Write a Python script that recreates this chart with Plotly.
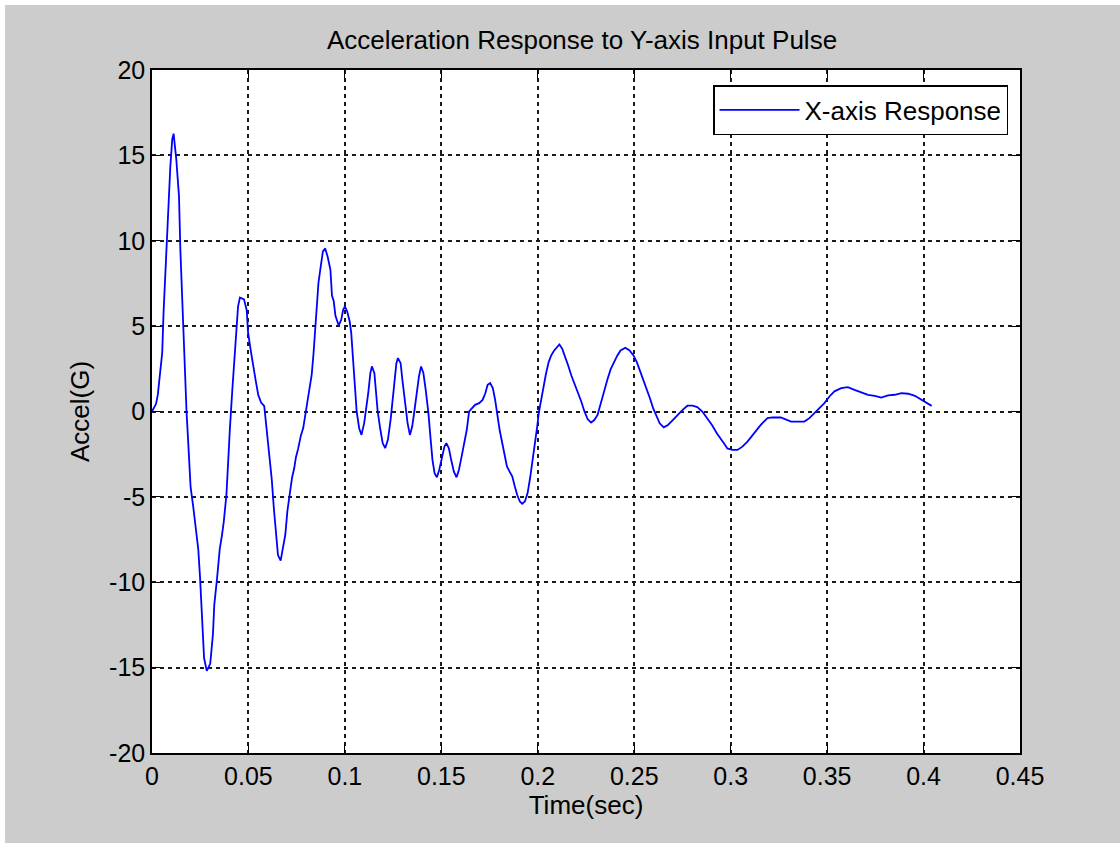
import plotly.graph_objects as go

# ---- data ----
time_sec = [
    0.0, 0.0012, 0.0021, 0.003, 0.0042, 0.0053, 0.006, 0.007, 0.0082, 0.0095,
    0.0105, 0.0112, 0.0126, 0.014, 0.0147, 0.0158, 0.0167, 0.0179, 0.0191, 0.02,
    0.0214, 0.0226, 0.024, 0.0249, 0.0258, 0.0263, 0.027, 0.0284, 0.0302, 0.0316,
    0.0323, 0.0337, 0.0351, 0.0363, 0.0372, 0.0386, 0.0393, 0.0404, 0.0416, 0.0428,
    0.0439, 0.0446, 0.0456, 0.0477, 0.0491, 0.0498, 0.0512, 0.0526, 0.0539, 0.0551,
    0.0565, 0.0582, 0.0596, 0.0609, 0.0621, 0.0632, 0.0644, 0.0653, 0.0667, 0.0679,
    0.0691, 0.0702, 0.0714, 0.0726, 0.0737, 0.0746, 0.0758, 0.0772, 0.0784, 0.0793,
    0.0805, 0.0816, 0.0828, 0.0837, 0.0846, 0.0854, 0.0863, 0.0875, 0.0886, 0.0898,
    0.0911, 0.0925, 0.0933, 0.0942, 0.0951, 0.0968, 0.0981, 0.0991, 0.1, 0.1012,
    0.1025, 0.1033, 0.1042, 0.1051, 0.1061, 0.1074, 0.1086, 0.11, 0.1109, 0.1121,
    0.1132, 0.114, 0.1153, 0.1161, 0.117, 0.1184, 0.1196, 0.1209, 0.1223, 0.1237,
    0.1246, 0.1254, 0.1267, 0.1275, 0.1289, 0.1298, 0.1311, 0.1325, 0.1337, 0.1349,
    0.136, 0.1372, 0.1384, 0.1395, 0.1407, 0.1419, 0.1433, 0.1444, 0.1454, 0.1465,
    0.1477, 0.1489, 0.1504, 0.1516, 0.1526, 0.1539, 0.1551, 0.1565, 0.1579, 0.1591,
    0.1605, 0.1618, 0.1632, 0.1644, 0.1658, 0.1675, 0.1696, 0.1714, 0.1728, 0.174,
    0.1753, 0.1767, 0.1779, 0.1789, 0.1802, 0.1816, 0.1828, 0.184, 0.1854, 0.1868,
    0.1881, 0.1893, 0.1907, 0.1919, 0.1933, 0.1947, 0.196, 0.1974, 0.1985, 0.1997,
    0.2005, 0.2017, 0.2031, 0.2042, 0.2056, 0.2069, 0.2085, 0.2098, 0.2112, 0.2127,
    0.2141, 0.2158, 0.2175, 0.2192, 0.2208, 0.2225, 0.2242, 0.2259, 0.2276, 0.2293,
    0.231, 0.2327, 0.2344, 0.2361, 0.2378, 0.2395, 0.2412, 0.2429, 0.2454, 0.2476,
    0.2497, 0.2514, 0.2531, 0.2547, 0.2564, 0.2581, 0.2598, 0.2615, 0.2632, 0.2653,
    0.2675, 0.27, 0.2725, 0.2751, 0.2776, 0.2802, 0.2827, 0.2853, 0.2878, 0.2903,
    0.2929, 0.2948, 0.2965, 0.2983, 0.3009, 0.3035, 0.3061, 0.3087, 0.3122, 0.3156,
    0.3191, 0.3217, 0.326, 0.3286, 0.3313, 0.3347, 0.3382, 0.3408, 0.3434, 0.346,
    0.3486, 0.3512, 0.3538, 0.3573, 0.3608, 0.3642, 0.3677, 0.3712, 0.3747, 0.3781,
    0.3816, 0.3851, 0.3885, 0.392, 0.3955, 0.399, 0.4016, 0.4042,
]
accel_g = [
    0.0, 0.3, 0.45, 0.97, 2.26, 3.45, 5.82, 8.51, 11.75, 14.33,
    15.95, 16.27, 14.76, 12.6, 9.48, 6.25, 2.8, 0.0, -2.48, -4.42,
    -5.6, -6.68, -8.08, -9.7, -11.42, -13.04, -14.44, -15.19, -14.76, -13.04,
    -11.31, -9.81, -8.08, -7.22, -6.47, -4.85, -3.13, -0.97, 1.19, 3.23,
    4.96, 6.14, 6.68, 6.57, 5.93, 4.63, 3.56, 2.48, 1.72, 0.97,
    0.54, 0.32, -1.19, -2.59, -3.99, -5.71, -7.22, -8.41, -8.73, -7.97,
    -7.22, -5.82, -4.85, -3.88, -3.34, -2.69, -2.16, -1.4, -0.97, -0.32,
    0.43, 1.08, 2.16, 3.34, 4.63, 5.93, 7.54, 8.51, 9.38, 9.55,
    9.05, 8.3, 6.79, 6.47, 5.6, 5.04, 5.37, 5.96, 6.15, 5.86,
    5.27, 4.59, 3.13, 1.46, 0.0, -0.98, -1.37, -0.68, 0.0, 1.07,
    2.25, 2.64, 2.25, 1.07, 0.0, -1.07, -1.86, -2.15, -1.66, -0.49,
    0.49, 1.66, 2.83, 3.13, 2.83, 1.86, 0.68, -0.68, -1.37, -0.88,
    0.0, 1.07, 2.05, 2.64, 2.25, 1.27, -0.1, -1.56, -2.83, -3.61,
    -3.85, -3.42, -2.64, -2.05, -1.86, -2.15, -2.83, -3.52, -3.85, -3.42,
    -2.64, -1.86, -1.07, 0.0, 0.2, 0.39, 0.49, 0.68, 1.07, 1.56,
    1.66, 1.37, 0.68, -0.1, -1.07, -1.86, -2.64, -3.22, -3.52, -3.81,
    -4.39, -4.88, -5.27, -5.41, -5.27, -4.79, -3.91, -2.83, -1.7, -0.89,
    -0.1, 0.69, 1.49, 2.18, 2.88, 3.27, 3.57, 3.77, 3.93, 3.67,
    3.27, 2.68, 2.08, 1.59, 1.09, 0.6, 0.0, -0.46, -0.65, -0.5,
    -0.2, 0.5, 1.29, 1.88, 2.48, 2.88, 3.27, 3.57, 3.73, 3.57,
    3.27, 2.88, 2.38, 1.88, 1.29, 0.79, 0.2, -0.3, -0.69, -0.93,
    -0.79, -0.5, -0.2, 0.1, 0.34, 0.34, 0.26, 0.0, -0.4, -0.79,
    -1.29, -1.57, -1.86, -2.16, -2.25, -2.25, -2.06, -1.76, -1.27, -0.78,
    -0.39, -0.35, -0.35, -0.45, -0.59, -0.59, -0.59, -0.39, -0.1, 0.2,
    0.49, 0.88, 1.18, 1.37, 1.43, 1.27, 1.12, 0.98, 0.92, 0.82,
    0.94, 0.98, 1.08, 1.04, 0.92, 0.69, 0.49, 0.33,
]

x_tick_vals = [0, 0.05, 0.1, 0.15, 0.2, 0.25, 0.3, 0.35, 0.4, 0.45]
x_tick_text = ["0", "0.05", "0.1", "0.15", "0.2", "0.25", "0.3", "0.35", "0.4", "0.45"]
y_tick_vals = [-20, -15, -10, -5, 0, 5, 10, 15, 20]
y_tick_text = ["-20", "-15", "-10", "-5", "0", "5", "10", "15", "20"]

FONT = "Liberation Sans, Arial, sans-serif"
W, H = 1120, 843
L, R, T, B = 152, 100, 70, 90

fig = go.Figure()
fig.add_trace(go.Scatter(
    x=time_sec, y=accel_g, mode="lines", name="X-axis Response",
    line=dict(color="#0000ff", width=1.8),
))

axis_common = dict(
    showline=True, linecolor="#000000", linewidth=1.5, mirror="ticks",
    ticks="inside", ticklen=8, tickwidth=1, tickcolor="#000000",
    showgrid=True, gridcolor="#1a1a1a", gridwidth=1.5, griddash="4px,4px",
    zeroline=False, tickfont=dict(family=FONT, size=25, color="#000000"),
)

fig.update_layout(
    width=W, height=H,
    margin=dict(l=L, r=R, t=T, b=B, pad=0),
    paper_bgcolor="#cccccc", plot_bgcolor="#ffffff",
    title=dict(text="Acceleration Response to Y-axis Input Pulse",
               x=(582) / W, xanchor="center", y=1 - 40 / H, yanchor="middle",
               font=dict(family=FONT, size=26, color="#000000")),
    xaxis=dict(range=[0, 0.45], tickvals=x_tick_vals, ticktext=x_tick_text,
               title=dict(text="Time(sec)", standoff=4,
                          font=dict(family=FONT, size=26, color="#000000")),
               **axis_common),
    yaxis=dict(range=[-20, 20], tickvals=y_tick_vals, ticktext=y_tick_text,
               title=dict(text="Accel(G)", standoff=12,
                          font=dict(family=FONT, size=26, color="#000000")),
               **axis_common),
    legend=dict(x=(1008 - L) / (W - L - R), y=(H - B - 85) / (H - T - B),
                xanchor="right", yanchor="top",
                bgcolor="#ffffff", bordercolor="#000000", borderwidth=1.5,
                font=dict(family=FONT, size=26, color="#000000"),
                itemwidth=80),
    showlegend=True,
)

# thin white strips at the top and left edges of the reference screenshot
pw, ph = W - L - R, H - T - B
fig.add_shape(type="rect", xref="paper", yref="paper", layer="above",
              x0=(0 - L) / pw, x1=(W - L) / pw, y0=(H - B - 5) / ph, y1=(H - B) / ph,
              fillcolor="#ffffff", line=dict(width=0))
fig.add_shape(type="rect", xref="paper", yref="paper", layer="above",
              x0=(0 - L) / pw, x1=(5 - L) / pw, y0=(H - B - H) / ph, y1=(H - B) / ph,
              fillcolor="#ffffff", line=dict(width=0))

fig.write_html("out.html")
